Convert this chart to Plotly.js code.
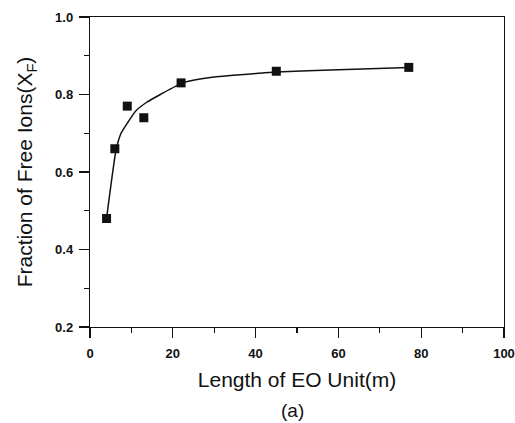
<!DOCTYPE html>
<html><head><meta charset="utf-8">
<script src="https://cdn.plot.ly/plotly-3.0.1.min.js"></script>
<style>html,body{margin:0;padding:0;background:#fff;}#chart{width:515px;height:423px;}</style>
</head><body><div id="chart"></div>
<script>
const eoLength = [4, 6, 9, 13, 22, 45, 77];
const freeFraction = [0.48, 0.66, 0.77, 0.74, 0.83, 0.86, 0.87];
const fitX = [4, 6.3, 7.5, 9.2, 11, 13.7, 17, 22.4, 30, 41, 45, 60, 77];
const fitY = [0.48, 0.657, 0.70, 0.729, 0.757, 0.78, 0.80, 0.83, 0.845, 0.855, 0.858, 0.864, 0.87];
const xTicks = [0, 20, 40, 60, 80, 100];
const yTicks = [0.2, 0.4, 0.6, 0.8, 1.0];
const yTickText = ['0.2', '0.4', '0.6', '0.8', '1.0'];

const fam = 'Liberation Sans, Arial, sans-serif';
const axisFont = {family: fam, size: 13, color: '#111', weight: 'bold'};
const data = [
  {x: fitX, y: fitY, mode: 'lines', line: {color: '#111', width: 1.5, shape: 'spline', smoothing: 0.5}, hoverinfo: 'skip'},
  {x: eoLength, y: freeFraction, mode: 'markers', marker: {symbol: 'square', size: 9, color: '#111'}}
];
const layout = {
  width: 515, height: 423,
  margin: {l: 90, r: 11, t: 17, b: 96},
  showlegend: false,
  paper_bgcolor: '#fff', plot_bgcolor: '#fff',
  xaxis: {
    range: [0, 100], tickvals: xTicks, ticks: 'outside', ticklen: 10, tickwidth: 1.2, tickcolor: '#111',
    showline: true, linecolor: '#111', linewidth: 1.2, mirror: true, showgrid: false, zeroline: false,
    tickfont: axisFont, ticklabelstandoff: 4,
    minor: {dtick: 10, ticks: 'outside', ticklen: 5, tickcolor: '#111', showgrid: false},
    title: {text: 'Length of EO Unit(m)', font: {family: fam, size: 21, color: '#111'}, standoff: 12}
  },
  yaxis: {
    range: [0.2, 1.0], tickvals: yTicks, ticktext: yTickText, ticks: 'outside', ticklen: 10, tickwidth: 1.2, tickcolor: '#111',
    showline: true, linecolor: '#111', linewidth: 1.2, mirror: true, showgrid: false, zeroline: false,
    tickfont: axisFont, ticklabelstandoff: 3,
    minor: {dtick: 0.1, ticks: 'outside', ticklen: 5, tickcolor: '#111', showgrid: false},
    title: {text: 'Fraction of Free Ions(X<sub>F</sub>)', font: {family: fam, size: 21, color: '#111'}, standoff: 16}
  },
  annotations: [
    {text: '(a)', xref: 'paper', yref: 'paper', x: 0.49, y: -0.27, yanchor: 'middle', showarrow: false,
     font: {family: fam, size: 19, color: '#111'}}
  ]
};
Plotly.newPlot('chart', data, layout, {staticPlot: true});
</script></body></html>
